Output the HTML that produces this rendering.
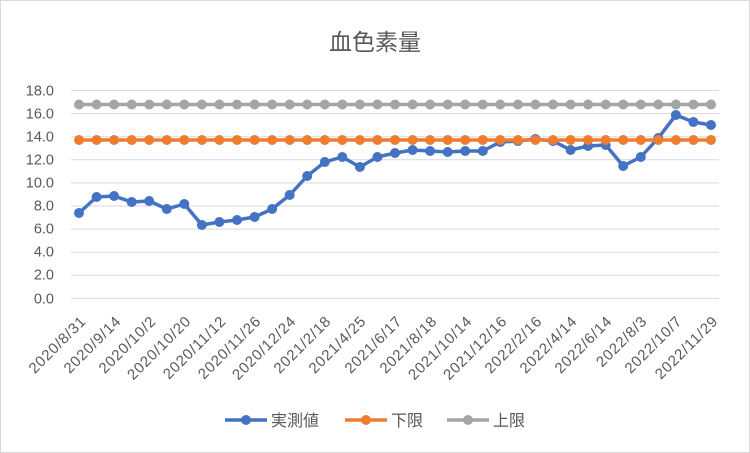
<!DOCTYPE html>
<html><head><meta charset="utf-8"><style>
body{margin:0;background:#fff}
svg{display:block;font-family:"Liberation Sans","Noto Sans CJK JP",sans-serif}
</style></head><body>
<svg width="750" height="453" viewBox="0 0 750 453" xmlns="http://www.w3.org/2000/svg">
<defs>
<marker id="mb" markerUnits="userSpaceOnUse" markerWidth="12" markerHeight="12" refX="6" refY="6"><circle cx="6" cy="6" r="5" fill="#4472C4"/></marker>
<marker id="mo" markerUnits="userSpaceOnUse" markerWidth="12" markerHeight="12" refX="6" refY="6"><circle cx="6" cy="6" r="5" fill="#ED7D31"/></marker>
<marker id="mg" markerUnits="userSpaceOnUse" markerWidth="12" markerHeight="12" refX="6" refY="6"><circle cx="6" cy="6" r="5" fill="#A5A5A5"/></marker>
</defs>
<rect x="0.5" y="0.5" width="749" height="452" fill="#fff" stroke="#d9d9d9"/>
<text x="375" y="50" text-anchor="middle" font-size="23" fill="#595959">血色素量</text>
<g stroke="#d9d9d9" stroke-width="1">
<line x1="71" x2="719" y1="90.5" y2="90.5"/><line x1="71" x2="719" y1="113.6" y2="113.6"/><line x1="71" x2="719" y1="136.7" y2="136.7"/><line x1="71" x2="719" y1="159.8" y2="159.8"/><line x1="71" x2="719" y1="182.9" y2="182.9"/><line x1="71" x2="719" y1="206" y2="206"/><line x1="71" x2="719" y1="229.1" y2="229.1"/><line x1="71" x2="719" y1="252.2" y2="252.2"/><line x1="71" x2="719" y1="275.3" y2="275.3"/><line x1="71" x2="719" y1="298.4" y2="298.4"/>
</g>
<g font-size="14.5" fill="#595959" text-anchor="end">
<text x="54" y="95.5">18.0</text><text x="54" y="118.5">16.0</text><text x="54" y="141.5">14.0</text><text x="54" y="164.5">12.0</text><text x="54" y="187.5">10.0</text><text x="54" y="210.5">8.0</text><text x="54" y="233.5">6.0</text><text x="54" y="256.5">4.0</text><text x="54" y="279.5">2.0</text><text x="54" y="303.5">0.0</text>
</g>
<g font-size="15" fill="#595959" text-anchor="end" letter-spacing="0.8">
<text transform="translate(87,322) rotate(-45)">2020/8/31</text>
<text transform="translate(122,322) rotate(-45)">2020/9/14</text>
<text transform="translate(157,322) rotate(-45)">2020/10/2</text>
<text transform="translate(192,322) rotate(-45)">2020/10/20</text>
<text transform="translate(227,322) rotate(-45)">2020/11/12</text>
<text transform="translate(262,322) rotate(-45)">2020/11/26</text>
<text transform="translate(297,322) rotate(-45)">2020/12/24</text>
<text transform="translate(332,322) rotate(-45)">2021/2/18</text>
<text transform="translate(367,322) rotate(-45)">2021/4/25</text>
<text transform="translate(403,322) rotate(-45)">2021/6/17</text>
<text transform="translate(438,322) rotate(-45)">2021/8/18</text>
<text transform="translate(473,322) rotate(-45)">2021/10/14</text>
<text transform="translate(508,322) rotate(-45)">2021/12/16</text>
<text transform="translate(543,322) rotate(-45)">2022/2/16</text>
<text transform="translate(578,322) rotate(-45)">2022/4/14</text>
<text transform="translate(613,322) rotate(-45)">2022/6/14</text>
<text transform="translate(648,322) rotate(-45)">2022/8/3</text>
<text transform="translate(683,322) rotate(-45)">2022/10/7</text>
<text transform="translate(719,322) rotate(-45)">2022/11/29</text>
</g>
<g fill="none" stroke-width="3.5" stroke-linejoin="round">
<polyline stroke="#A5A5A5" marker-start="url(#mg)" marker-mid="url(#mg)" marker-end="url(#mg)" points="79,104.5 96.6,104.5 114.1,104.5 131.7,104.5 149.2,104.5 166.8,104.5 184.3,104.5 201.9,104.5 219.4,104.5 237,104.5 254.6,104.5 272.1,104.5 289.7,104.5 307.2,104.5 324.8,104.5 342.3,104.5 359.9,104.5 377.4,104.5 395,104.5 412.6,104.5 430.1,104.5 447.7,104.5 465.2,104.5 482.8,104.5 500.3,104.5 517.9,104.5 535.4,104.5 553,104.5 570.6,104.5 588.1,104.5 605.7,104.5 623.2,104.5 640.8,104.5 658.3,104.5 675.9,104.5 693.4,104.5 711,104.5"/>
<polyline stroke="#4472C4" marker-start="url(#mb)" marker-mid="url(#mb)" marker-end="url(#mb)" points="79,213 96.6,197 114.1,196 131.7,202 149.2,201 166.8,209 184.3,204 201.9,225 219.4,222 237,220 254.6,217 272.1,209 289.7,195 307.2,176 324.8,162 342.3,157 359.9,167 377.4,157 395,153 412.6,150 430.1,151 447.7,152 465.2,151 482.8,151 500.3,142 517.9,141 535.4,139 553,141 570.6,150 588.1,146 605.7,145 623.2,166 640.8,157 658.3,138 675.9,115 693.4,122 711,125"/>
<polyline stroke="#ED7D31" marker-start="url(#mo)" marker-mid="url(#mo)" marker-end="url(#mo)" points="79,140 96.6,140 114.1,140 131.7,140 149.2,140 166.8,140 184.3,140 201.9,140 219.4,140 237,140 254.6,140 272.1,140 289.7,140 307.2,140 324.8,140 342.3,140 359.9,140 377.4,140 395,140 412.6,140 430.1,140 447.7,140 465.2,140 482.8,140 500.3,140 517.9,140 535.4,140 553,140 570.6,140 588.1,140 605.7,140 623.2,140 640.8,140 658.3,140 675.9,140 693.4,140 711,140"/>
</g>
<g stroke-width="3.5">
<line x1="225" x2="267" y1="420" y2="420" stroke="#4472C4"/><circle cx="246" cy="420" r="5" fill="#4472C4"/>
<line x1="345" x2="387" y1="420" y2="420" stroke="#ED7D31"/><circle cx="366" cy="420" r="5" fill="#ED7D31"/>
<line x1="447" x2="489" y1="420" y2="420" stroke="#A5A5A5"/><circle cx="468" cy="420" r="5" fill="#A5A5A5"/>
</g>
<g font-size="16" fill="#595959">
<text x="271" y="426">実測値</text><text x="391" y="426">下限</text><text x="493" y="426">上限</text>
</g>
</svg>
</body></html>
